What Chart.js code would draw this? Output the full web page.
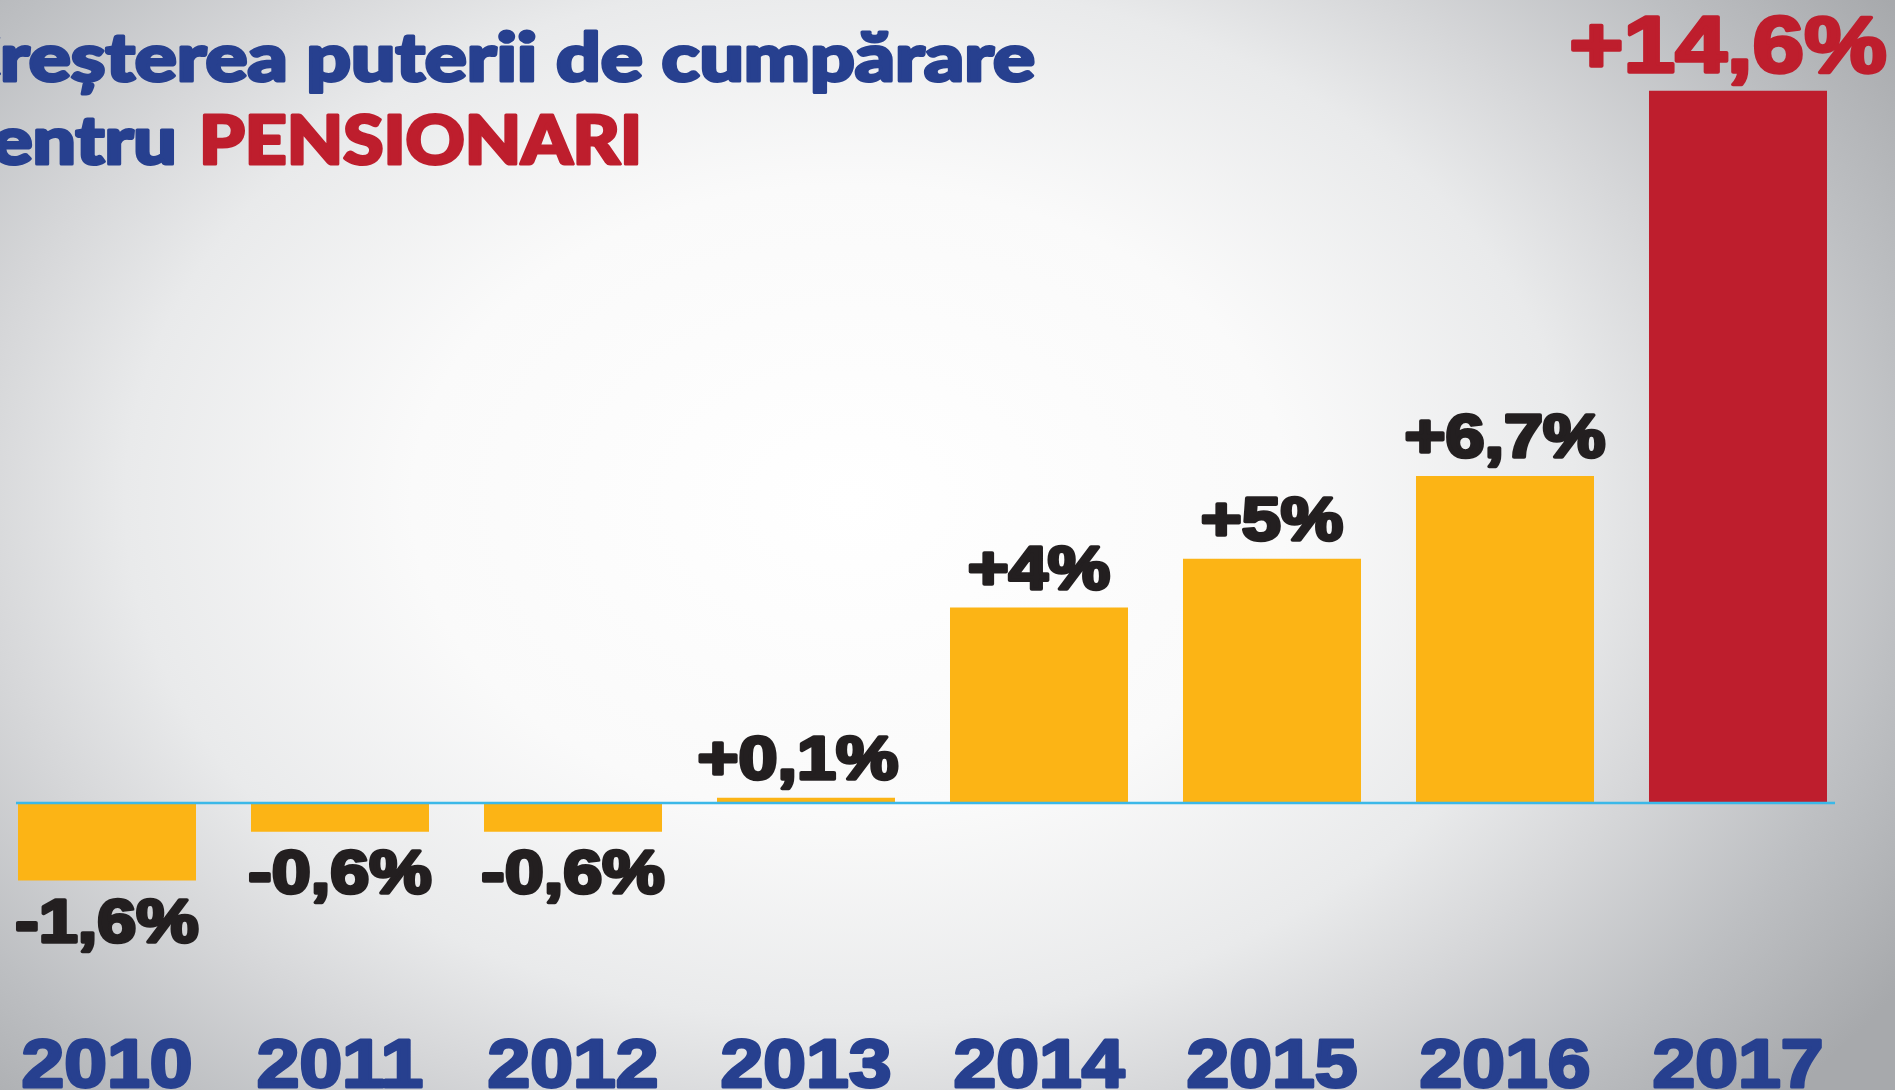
<!DOCTYPE html>
<html lang="ro">
<head>
<meta charset="utf-8">
<title>Creșterea puterii de cumpărare pentru pensionari</title>
<script src="https://cdn.jsdelivr.net/npm/chart.js@4.4.1/dist/chart.umd.min.js"></script>
<style>
  html, body { margin: 0; padding: 0; width: 1895px; height: 1090px; overflow: hidden; }
  body {
    position: relative;
    background: radial-gradient(ellipse 1250px 900px at 850px 500px,
      #ffffff 0%, #fafafa 35%, #e9eaeb 58%, #d6d7d9 70%, #bdbfc2 85%, #a7a9ac 100%);
  }
  #chart { position: absolute; left: -20px; top: 0; }
</style>
</head>
<body>
<canvas id="chart" width="1935" height="1090"></canvas>
<script>
// data
const years = ["2010", "2011", "2012", "2013", "2014", "2015", "2016", "2017"];
const growth = [-1.6, -0.6, -0.6, 0.1, 4, 5, 6.7, 14.6];
const highlightYear = "2017";
const titleLine1 = "Creșterea puterii de cumpărare";
const titleLine2 = "pentru ";
const titleAccent = "PENSIONARI";

const YELLOW = "#fcb415";
const RED = "#be1e2d";
const BLUE = "#27408f";
const INK = "#231f20";
const ZERO_LINE = "#3bb8e8";

// page x -> canvas x (canvas is shifted 20px to the left)
const OFF = 20;

function fmt(v) {
  const sign = v > 0 ? "+" : "-";
  return sign + String(Math.abs(v)).replace(".", ",") + "%";
}

function drawText(ctx, text, x, baseline, font, color, sx, align, stroke) {
  ctx.save();
  ctx.font = font;
  ctx.translate(x, baseline);
  ctx.scale(sx, 1);
  ctx.textAlign = align;
  ctx.textBaseline = "alphabetic";
  ctx.fillStyle = color;
  ctx.fillText(text, 0, 0);
  if (stroke) {
    ctx.lineWidth = stroke;
    ctx.lineJoin = "round";
    ctx.strokeStyle = color;
    ctx.strokeText(text, 0, 0);
  }
  ctx.restore();
}

const decorPlugin = {
  id: "decor",
  afterDatasetsDraw(chart) {
    const ctx = chart.ctx;
    const y = chart.scales.y;
    const bars = chart.getDatasetMeta(0).data;

    // zero line
    const y0 = y.getPixelForValue(0);
    const first = bars[0], last = bars[bars.length - 1];
    ctx.save();
    ctx.strokeStyle = ZERO_LINE;
    ctx.lineWidth = 2.5;
    ctx.beginPath();
    ctx.moveTo(first.x - first.width / 2 - 2, y0 + 0.5);
    ctx.lineTo(last.x + last.width / 2 + 8, y0 + 0.5);
    ctx.stroke();
    ctx.restore();

    // value labels
    bars.forEach((bar, i) => {
      const v = growth[i];
      const hot = years[i] === highlightYear;
      const font = hot ? "bold 80px 'Liberation Sans'" : "bold 61px 'Liberation Sans'";
      const color = hot ? RED : INK;
      const sx = hot ? 1.16 : 1.15;
      const base = v >= 0 ? bar.y - 19 : bar.y + 61;
      let dx = 0;
      if (hot) dx = -10;
      else if (v > 0 && v < 1) dx = -8;
      drawText(ctx, fmt(v), bar.x + dx, base, font, color, sx, "center", 3.5);
    });

    // year labels
    bars.forEach((bar, i) => {
      drawText(ctx, years[i], bar.x, 1087, "bold 68px 'Liberation Sans'", BLUE, 1.13, "center", 3);
    });

    // title
    ctx.save();
    const tFont = "900 66px Lato";
    ctx.font = tFont;
    const sx1 = 1035 / ctx.measureText(titleLine1.slice(1)).width;
    const sx2 = 443 / ctx.measureText(titleAccent).width;
    const accentW = ctx.measureText(titleAccent).width * sx2;
    ctx.restore();
    drawText(ctx, titleLine1, 1035 + OFF, 81, tFont, BLUE, sx1, "right", 3);
    drawText(ctx, titleAccent, 642 + OFF, 164, tFont, RED, sx2, "right", 3);
    drawText(ctx, titleLine2, 642 + OFF - accentW - 4, 164, tFont, BLUE, sx2 * 1.05, "right", 3);
  }
};

new Chart(document.getElementById("chart"), {
  type: "bar",
  data: {
    labels: years,
    datasets: [{
      data: growth,
      backgroundColor: years.map(yr => yr === highlightYear ? RED : YELLOW),
      borderWidth: 0,
      barPercentage: 0.764,
      categoryPercentage: 1
    }]
  },
  options: {
    responsive: false,
    animation: false,
    devicePixelRatio: 1,
    layout: { padding: { left: 10.5, right: 60.5, top: 22.5, bottom: 43.75 } },
    plugins: { legend: { display: false }, tooltip: { enabled: false } },
    scales: {
      x: { display: false },
      y: { display: false, min: -5, max: 16 }
    }
  },
  plugins: [decorPlugin]
});
</script>
</body>
</html>
